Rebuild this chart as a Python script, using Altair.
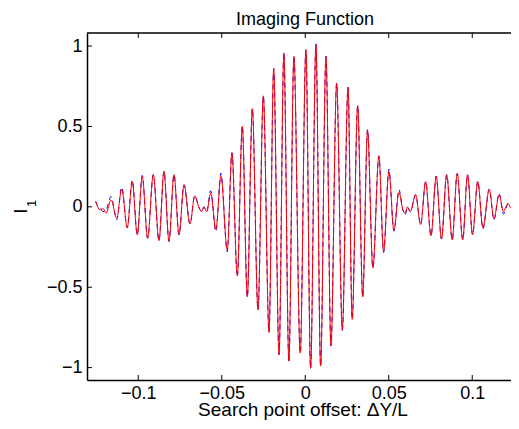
import altair as alt
import pandas as pd

# ---- data ----
x_vals = [-0.1255, -0.1243, -0.1229, -0.1211, -0.1193, -0.1163, -0.1129, -0.1099, -0.1066, -0.1036,
          -0.1006, -0.0976, -0.0944, -0.0910, -0.0876, -0.0846, -0.0816, -0.0786, -0.0756, -0.0726,
          -0.0690, -0.0662, -0.0635, -0.0620, -0.0607, -0.0590, -0.0566, -0.0535, -0.0505, -0.0467,
          -0.0439, -0.0407, -0.0377, -0.0347, -0.0317, -0.0283, -0.0251, -0.0217, -0.0189, -0.0157,
          -0.0128, -0.0098, -0.0068, -0.0030, 0.0004, 0.0032, 0.0064, 0.0092, 0.0124, 0.0154,
          0.0188, 0.0222, 0.0256, 0.0281, 0.0314, 0.0344, 0.0373, 0.0405, 0.0441, 0.0469,
          0.0501, 0.0531, 0.0561, 0.0585, 0.0599, 0.0611, 0.0629, 0.0661, 0.0691, 0.0721,
          0.0753, 0.0784, 0.0816, 0.0847, 0.0880, 0.0910, 0.0943, 0.0972, 0.1002, 0.1033,
          0.1064, 0.1102, 0.1130, 0.1161, 0.1187, 0.1202, 0.1216, 0.1229, 0.1256]

red_vals = [0.033, 0.0, -0.02, -0.01, -0.04, 0.044, -0.07, 0.11, -0.13, 0.157,
            -0.174, 0.188, -0.195, 0.2, -0.21, 0.22, -0.215, 0.2, -0.174, 0.137,
            -0.106, 0.068, -0.008, -0.03, 0.0, -0.03, 0.085, -0.143, 0.19, -0.27,
            0.336, -0.43, 0.50, -0.56, 0.61, -0.64, 0.69, -0.78, 0.86, -0.92,
            0.957, -0.96, 0.936, -0.91, 0.977, -1.004, 1.012, -0.99, 0.936, -0.865,
            0.77, -0.768, 0.743, -0.70, 0.63, -0.56, 0.476, -0.38, 0.317, -0.277,
            0.22, -0.147, 0.089, -0.019, -0.04, 0.0, -0.03, 0.075, -0.11, 0.157,
            -0.18, 0.19, -0.2, 0.2, -0.205, 0.207, -0.205, 0.2, -0.174, 0.157,
            -0.13, 0.108, -0.075, 0.075, -0.03, 0.0, 0.02, -0.005, 0.03]

blue_vals = [0.033, 0.005, -0.005, -0.03, -0.02, 0.064, -0.08, 0.122, -0.13, 0.165,
             -0.174, 0.195, -0.195, 0.2, -0.21, 0.22, -0.215, 0.2, -0.174, 0.137,
             -0.106, 0.068, -0.008, -0.03, 0.0, -0.03, 0.1, -0.153, 0.21, -0.28,
             0.336, -0.433, 0.503, -0.56, 0.61, -0.64, 0.69, -0.78, 0.86, -0.92,
             0.957, -0.96, 0.936, -0.91, 0.977, -1.004, 1.012, -0.99, 0.936, -0.865,
             0.77, -0.768, 0.743, -0.70, 0.63, -0.56, 0.48, -0.38, 0.317, -0.284,
             0.234, -0.152, 0.106, -0.02, -0.05, 0.0, -0.03, 0.075, -0.11, 0.157,
             -0.18, 0.19, -0.2, 0.2, -0.205, 0.207, -0.205, 0.2, -0.174, 0.16,
             -0.137, 0.11, -0.08, 0.083, -0.045, -0.01, 0.027, 0.02, 0.015]

x_ticks = [-0.1, -0.05, 0, 0.05, 0.1]
y_ticks = [-1, -0.5, 0, 0.5, 1]

title_text = "Imaging Function"
x_title_text = "Search point offset:  \u0394Y/L"
y_title_text = "I"
y_sub_text = "1"

# ---- layout ----
W = 424
H = 347
RANGE_W = 436.5
FONT = "Liberation Sans"

df = pd.DataFrame({"x": x_vals, "red": red_vals, "blue": blue_vals})
xt = pd.DataFrame({"v": x_ticks})
yt = pd.DataFrame({"v": y_ticks})

xs = alt.Scale(domain=[-0.1307, 0.1307], range=[0, RANGE_W], nice=False, zero=False)
ys = alt.Scale(domain=[-1.077, 1.081], nice=False, zero=False)

x_axis = alt.Axis(values=x_ticks, format="~g", title=None, grid=False, ticks=False, tickSize=0,
                  domain=True, domainColor="black", domainWidth=1.5,
                  labelFont=FONT, labelFontSize=18, labelColor="black", labelPadding=4,
                  labelFlush=False, labelOverlap=False)
y_axis = alt.Axis(values=y_ticks, format="~g", title=None, grid=False, ticks=False, tickSize=0,
                  domain=True, domainColor="black", domainWidth=1.5,
                  labelFont=FONT, labelFontSize=18, labelColor="black", labelPadding=5,
                  labelFlush=False, labelOverlap=False)

blue = alt.Chart(df).mark_line(color="blue", strokeWidth=1, strokeDash=[5, 4],
                               interpolate="monotone").encode(
    x=alt.X("x:Q", scale=xs, axis=x_axis),
    y=alt.Y("blue:Q", scale=ys, axis=y_axis),
)
red = alt.Chart(df).mark_line(color="red", strokeWidth=1, interpolate="monotone").encode(
    x=alt.X("x:Q", scale=xs, axis=x_axis),
    y=alt.Y("red:Q", scale=ys, axis=y_axis),
)

tick_bottom = alt.Chart(xt).mark_rule(color="black", strokeWidth=1).encode(
    x=alt.X("v:Q", scale=xs, axis=x_axis), y=alt.value(H), y2=alt.value(H - 5))
tick_top = alt.Chart(xt).mark_rule(color="black", strokeWidth=1).encode(
    x=alt.X("v:Q", scale=xs, axis=x_axis), y=alt.value(0), y2=alt.value(5))
tick_left = alt.Chart(yt).mark_rule(color="black", strokeWidth=1).encode(
    y=alt.Y("v:Q", scale=ys, axis=y_axis), x=alt.value(0), x2=alt.value(5))

one = pd.DataFrame({"t": [title_text]})
top_frame = alt.Chart(one).mark_rule(color="black", strokeWidth=1.5).encode(
    x=alt.value(0), x2=alt.value(RANGE_W), y=alt.value(0))

title = alt.Chart(pd.DataFrame({"t": [title_text]})).mark_text(
    font=FONT, fontSize=18, color="black", align="center", baseline="alphabetic").encode(
    text="t:N", x=alt.value(218), y=alt.value(-8.5))
x_title = alt.Chart(pd.DataFrame({"t": [x_title_text]})).mark_text(
    font=FONT, fontSize=19, color="black", align="center", baseline="alphabetic").encode(
    text="t:N", x=alt.value(216), y=alt.value(382.5))
y_title = alt.Chart(pd.DataFrame({"t": [y_title_text]})).mark_text(
    font=FONT, fontSize=19, color="black", align="center", baseline="alphabetic", angle=270).encode(
    text="t:N", x=alt.value(-60), y=alt.value(178))
y_sub = alt.Chart(pd.DataFrame({"t": [y_sub_text]})).mark_text(
    font=FONT, fontSize=13, color="black", align="center", baseline="alphabetic", angle=270).encode(
    text="t:N", x=alt.value(-51), y=alt.value(170.5))

chart = alt.layer(
    blue, red, tick_bottom, tick_top, tick_left, top_frame, title, x_title, y_title, y_sub
).properties(
    width=W, height=H,
    padding={"left": 79, "top": 25, "right": 0, "bottom": 40},
    autosize=alt.AutoSizeParams(type="none"),
    background="white",
).configure_view(strokeWidth=0)

chart.save("out.html", embed_options={"renderer": "svg", "actions": False})
